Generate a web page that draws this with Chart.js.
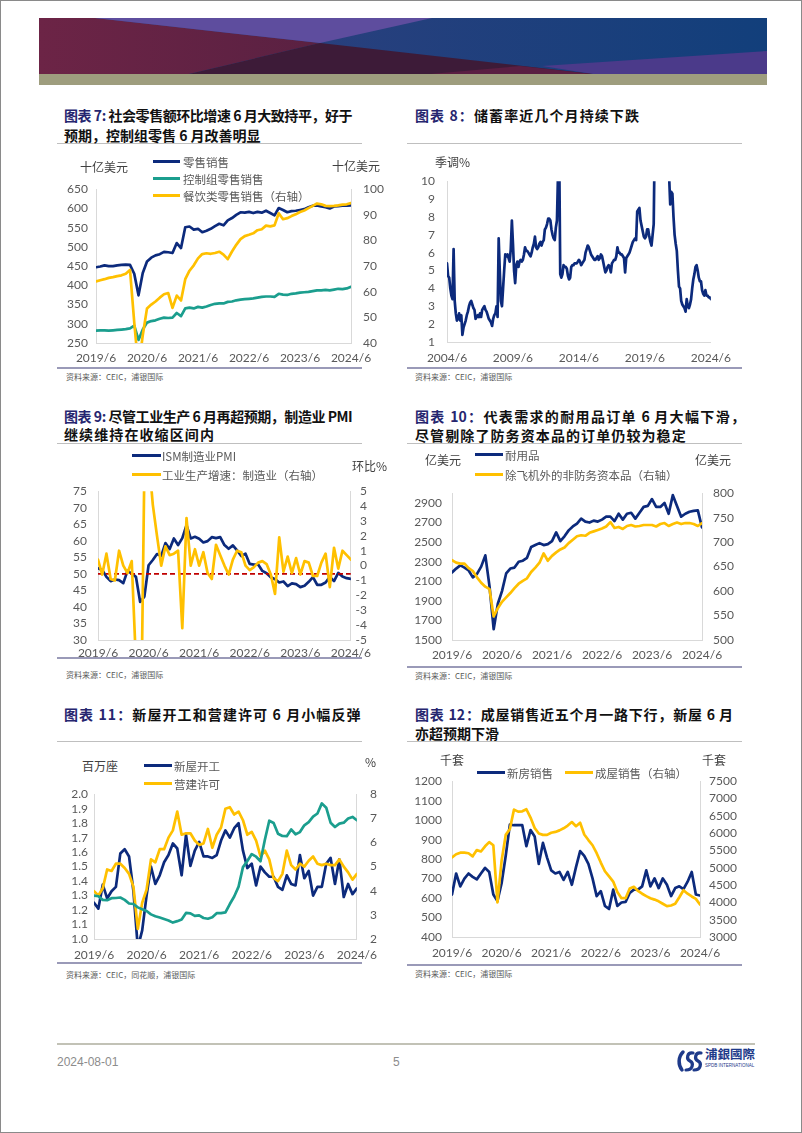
<!DOCTYPE html>
<html><head><meta charset="utf-8">
<script src="https://cdn.jsdelivr.net/npm/chart.js@4.4.1/dist/chart.umd.min.js"></script>
<style>
html,body{margin:0;padding:0;background:#fff;}
#page{position:relative;width:802px;height:1133px;overflow:hidden;background:#fff;}
#frame{position:absolute;left:0;top:0;width:802px;height:1133px;box-sizing:border-box;border:1px solid #8a8a8a;z-index:10;pointer-events:none;}
canvas{position:absolute;z-index:1;}
.t{position:absolute;white-space:nowrap;font-family:'Noto Sans CJK SC','Noto Sans',sans-serif;z-index:3;}
.title{font-size:14px;font-weight:700;color:#111;line-height:20px;}
.title .p{color:#26266F;}
.jl{text-align:justify;text-align-last:justify;white-space:normal;overflow:visible;}
.ls{letter-spacing:1.1px;}
.leg{font-size:11.5px;color:#595959;line-height:14px;}
.ax{font-size:12px;color:#404040;line-height:14px;}
.src{font-size:8px;color:#595959;line-height:10px;}
.sw{position:absolute;height:3px;z-index:3;}
.hr{position:absolute;height:1px;background:#BFBFBF;}
.hb{position:absolute;height:2px;background:#9A9AB8;}
.foot{position:absolute;font-family:'Liberation Sans',Arial,sans-serif;font-size:12px;color:#8c8c8c;line-height:14px;}
</style></head>
<body><div id="page">

<svg style="position:absolute;left:39px;top:18px" width="728" height="67">
  <defs>
    <linearGradient id="gNavy" x1="0" x2="1" y1="0" y2="0"><stop offset="0" stop-color="#36407F"/><stop offset="1" stop-color="#123F7B"/></linearGradient>
    <linearGradient id="gMar" x1="0" x2="1" y1="0" y2="0"><stop offset="0" stop-color="#6C2446"/><stop offset="1" stop-color="#5A2142"/></linearGradient>
  </defs>
  <rect x="0" y="0" width="728" height="56" fill="url(#gNavy)"/>
  <polygon points="0,0 56,0 281,25 150,56 0,56" fill="url(#gMar)"/>
  <polygon points="56,0 393,0 281,25" fill="#5E4D9E"/>
  <polygon points="281,25 554,56 150,56" fill="#3D1B38"/>
  <polygon points="503,48 728,33 728,56 554,56" fill="#4B3A8A"/>
  <polygon points="391,56 481,48 554,56" fill="#5A1E42"/>
  <rect x="0" y="56" width="728" height="11" fill="#9E9D7E"/>
</svg>

<canvas id="c7"></canvas>
<canvas id="c8"></canvas>
<canvas id="c9"></canvas>
<canvas id="c10"></canvas>
<canvas id="c11"></canvas>
<canvas id="c12"></canvas>

<!-- titles -->
<div class="t title" style="left:64px;top:105px;letter-spacing:-0.45px"><span class="p">图表 7:</span> 社会零售额环比增速 6 月大致持平，好于</div>
<div class="t title" style="left:64px;top:125px">预期，控制组零售 6 月改善明显</div>
<div class="t title ls" style="left:415px;top:105px"><span class="p">图表 8：</span>储蓄率近几个月持续下跌</div>
<div class="t title" style="left:64px;top:406px;letter-spacing:-0.45px"><span class="p">图表 9:</span> 尽管工业生产 6 月再超预期，制造业 PMI</div>
<div class="t title ls" style="left:64px;top:424px">继续维持在收缩区间内</div>
<div class="t title jl" style="left:415px;top:406px;width:330px"><span class="p">图表 10：</span>代表需求的耐用品订单 6 月大幅下滑，</div>
<div class="t title ls" style="left:415px;top:425px">尽管剔除了防务资本品的订单仍较为稳定</div>
<div class="t title ls" style="left:64px;top:704px"><span class="p">图表 11：</span>新屋开工和营建许可 6 月小幅反弹</div>
<div class="t title jl" style="left:415px;top:704px;width:318px"><span class="p">图表 12：</span>成屋销售近五个月一路下行，新屋 6 月</div>
<div class="t title" style="left:415px;top:723px">亦超预期下滑</div>

<!-- separators -->
<div class="hr" style="left:57px;top:143px;width:305px"></div>
<div class="hr" style="left:407px;top:143px;width:335px"></div>
<div class="hr" style="left:57px;top:443px;width:305px"></div>
<div class="hr" style="left:407px;top:443px;width:335px"></div>
<div class="hr" style="left:57px;top:741px;width:305px"></div>
<div class="hr" style="left:407px;top:741px;width:335px"></div>
<div class="hb" style="left:57px;top:367px;width:305px"></div>
<div class="hb" style="left:407px;top:367px;width:335px"></div>
<div class="hb" style="left:57px;top:657px;width:305px"></div>
<div class="hb" style="left:407px;top:666px;width:335px"></div>
<div class="hb" style="left:57px;top:962px;width:305px"></div>
<div class="hb" style="left:407px;top:964px;width:335px"></div>

<!-- sources -->
<div class="t src" style="left:66px;top:372px">资料来源：CEIC，浦银国际</div>
<div class="t src" style="left:415px;top:372px">资料来源：CEIC，浦银国际</div>
<div class="t src" style="left:66px;top:670px">资料来源：CEIC，浦银国际</div>
<div class="t src" style="left:415px;top:671px">资料来源：CEIC，浦银国际</div>
<div class="t src" style="left:66px;top:970px">资料来源：CEIC，同花顺，浦银国际</div>
<div class="t src" style="left:415px;top:969px">资料来源：CEIC，浦银国际</div>

<!-- chart 7 legend & axis titles -->
<div class="t ax" style="left:80px;top:160px">十亿美元</div>
<div class="t ax" style="left:332px;top:159px">十亿美元</div>
<div class="sw" style="left:153px;top:160px;width:27px;background:#0C2A7C"></div>
<div class="t leg" style="left:183px;top:155px">零售销售</div>
<div class="sw" style="left:153px;top:177px;width:27px;background:#1B9E8E"></div>
<div class="t leg" style="left:183px;top:172px">控制组零售销售</div>
<div class="sw" style="left:153px;top:194px;width:27px;background:#FFC000"></div>
<div class="t leg" style="left:183px;top:189px">餐饮类零售销售（右轴）</div>

<!-- chart 8 -->
<div class="t ax" style="left:435px;top:155px">季调%</div>

<!-- chart 9 -->
<div class="sw" style="left:132px;top:454px;width:29px;background:#0C2A7C"></div>
<div class="t leg" style="left:162px;top:449px">ISM制造业PMI</div>
<div class="sw" style="left:132px;top:473px;width:29px;background:#FFC000"></div>
<div class="t leg" style="left:162px;top:468px">工业生产增速：制造业（右轴）</div>
<div class="t ax" style="left:352px;top:459px">环比%</div>

<!-- chart 10 -->
<div class="t ax" style="left:425px;top:453px">亿美元</div>
<div class="t ax" style="left:695px;top:453px">亿美元</div>
<div class="sw" style="left:475px;top:453px;width:28px;background:#0C2A7C"></div>
<div class="t leg" style="left:505px;top:448px">耐用品</div>
<div class="sw" style="left:475px;top:473px;width:28px;background:#FFC000"></div>
<div class="t leg" style="left:505px;top:468px">除飞机外的非防务资本品（右轴）</div>

<!-- chart 11 -->
<div class="t ax" style="left:82px;top:759px">百万座</div>
<div class="t ax" style="left:365px;top:755px">%</div>
<div class="sw" style="left:144px;top:764px;width:28px;background:#0C2A7C"></div>
<div class="t leg" style="left:174px;top:759px">新屋开工</div>
<div class="sw" style="left:144px;top:782px;width:28px;background:#FFC000"></div>
<div class="t leg" style="left:174px;top:777px">营建许可</div>

<!-- chart 12 -->
<div class="t ax" style="left:440px;top:753px">千套</div>
<div class="t ax" style="left:702px;top:753px">千套</div>
<div class="sw" style="left:477px;top:771px;width:28px;background:#0C2A7C"></div>
<div class="t leg" style="left:507px;top:766px">新房销售</div>
<div class="sw" style="left:565px;top:771px;width:28px;background:#FFC000"></div>
<div class="t leg" style="left:595px;top:766px">成屋销售（右轴）</div>

<!-- footer -->
<div style="position:absolute;left:57px;top:1043px;width:698px;height:2px;background:#C2C2B6"></div>
<div class="foot" style="left:57px;top:1055px">2024-08-01</div>
<div class="foot" style="left:393px;top:1055px">5</div>
<svg style="position:absolute;left:676px;top:1049px" width="30" height="24">
  <path d="M7 3 C2 8 2 16 6 21" stroke="#1E3A8A" stroke-width="3.5" fill="none" stroke-linecap="round"/>
  <path d="M17 4 C11 3 10 10 14 12 C18 14 17 21 10 21" stroke="#1E3A8A" stroke-width="3.2" fill="none" stroke-linecap="round"/>
  <path d="M25 4 C19 3 18 10 22 12 C26 14 25 21 18 21" stroke="#1E3A8A" stroke-width="3.2" fill="none" stroke-linecap="round"/>
</svg>
<div class="t" style="left:705px;top:1047px;font-size:12.5px;font-weight:700;color:#1E3A8A;line-height:14px;font-family:'Noto Sans CJK TC','Noto Sans CJK SC',sans-serif">浦銀國際</div>
<div class="t" style="left:705px;top:1063px;font-size:4.5px;color:#1E3A8A;line-height:5px;font-family:'Liberation Sans',sans-serif">SPDB INTERNATIONAL</div>

<div id="frame"></div>
</div>

<script>
// ---------- category helpers ----------
function monthLabels(y, m, n) {
  const out = [];
  for (let i = 0; i < n; i++) { const t = (m - 1) + i; out.push((y + Math.floor(t / 12)) + '/' + ((t % 12) + 1)); }
  return out;
}
const months19 = monthLabels(2019, 6, 61);   // 2019/6 .. 2024/6
const months04 = monthLabels(2004, 6, 241);  // 2004/6 .. 2024/6
const xTicks5y = ['2019/6','2020/6','2021/6','2022/6','2023/6','2024/6'];
const xTicks8 = ['2004/6','2009/6','2014/6','2019/6','2024/6'];

// ---------- chart 7: retail sales ----------
const retailSales = [447,449,452,450,450,452,453,454,453,430,
  374,432,462,472,478,481,487,486,484,510,
  497,551,553,545,547,538,542,547,554,560,
  556,569,575,583,590,589,591,588,591,589,
  594,588,582,601,596,590,593,594,596,598,
  603,607,608,605,603,600,605,606,607,607,
  608];
const controlGroupSales = [282,283,283,282,283,284,285,286,288,295,
  258,285,303,307,309,313,316,315,316,328,
  320,340,342,340,344,342,345,349,352,353,
  353,357,358,361,363,364,365,366,368,370,
  371,371,370,378,376,375,378,379,381,382,
  383,385,387,387,388,387,389,391,390,392,
  396];
const foodServicesSales = [64.0,64.5,64.9,65.4,65.7,66.1,66.4,67.0,68.5,48.0,
  30.0,43.0,53.5,55.0,56.2,57.7,59.0,59.5,53.7,58.5,
  56.6,64.9,68.2,70.3,73.0,74.7,75.0,74.8,75.1,75.6,
  74.5,72.7,75.7,78.3,80.5,81.7,82.2,82.8,84.0,84.4,
  85.8,85.5,85.9,90.6,88.3,88.7,89.5,90.2,91.1,91.7,
  92.6,93.5,94.4,94.1,93.5,93.4,93.5,93.7,94.0,94.1,
  94.6];
const ticks7L = [250,300,350,400,450,500,550,600,650];
const ticks7R = [40,50,60,70,80,90,100];

// ---------- chart 8: saving rate ----------
const savingRate = [
  5.4,4.7,4.6,4.0,3.6,3.4,6.2,3.3,2.6,2.2,2.3,2.6,
  2.2,2.5,1.4,1.8,2.0,2.2,2.5,2.7,3.0,3.2,3.3,3.1,
  2.9,2.8,2.3,2.4,2.5,2.4,2.6,2.4,2.8,2.9,3.0,2.8,
  2.7,2.5,2.3,2.2,2.1,1.9,2.3,2.5,2.6,3.0,2.4,6.8,
  5.0,3.3,3.0,4.0,5.0,5.9,5.8,5.9,5.7,5.5,6.2,7.8,
  6.5,5.0,4.3,5.3,5.5,5.2,5.5,5.6,5.5,5.6,5.9,6.3,
  6.1,6.1,6.0,5.9,5.8,6.0,6.3,6.5,6.9,6.3,6.2,6.3,
  6.5,6.6,6.4,6.6,6.7,7.3,7.4,7.6,7.9,7.9,7.8,7.3,
  7.0,6.8,6.7,7.4,7.8,10.5,12.0,4.8,4.6,4.8,5.3,5.2,
  5.2,5.1,4.7,4.5,4.6,5.2,5.3,5.3,5.4,5.4,5.4,5.5,
  5.6,5.5,5.3,5.4,5.5,5.6,6.0,6.2,6.4,6.3,6.1,5.9,
  5.8,5.7,5.6,5.6,5.7,5.8,5.6,5.7,5.9,5.8,5.5,5.2,
  4.9,5.0,5.2,5.3,5.2,4.9,5.4,5.5,5.6,5.6,5.8,6.3,
  6.0,6.0,5.9,5.9,5.8,5.7,4.9,5.7,5.8,5.9,6.0,6.2,
  6.4,6.6,6.7,6.8,6.7,8.3,8.4,8.5,7.8,7.5,7.2,6.9,
  6.8,6.9,7.3,7.3,6.9,6.6,6.4,7.0,7.6,12.8,33.0,24.5,
  19.0,18.0,14.5,14.1,13.5,12.5,13.0,19.5,13.5,26.0,10.3,8.7,
  9.4,9.3,8.0,7.0,6.5,6.1,5.0,4.1,4.0,3.3,3.1,3.0,
  2.9,2.7,3.4,3.0,2.9,3.1,3.4,4.0,4.5,4.8,5.2,5.3,
  5.0,4.6,4.4,4.4,3.9,3.7,3.6,3.9,3.6,3.6,3.5,3.5,
  3.4];
const ticks8 = [1,2,3,4,5,6,7,8,9,10];

// ---------- chart 9: ISM PMI & IP manufacturing ----------
const ismPMI = [51.7,51.2,49.1,47.8,48.3,48.1,47.2,
  50.9,50.1,49.1,41.5,43.1,52.6,54.2,56.0,55.4,59.3,57.5,60.7,
  58.7,60.8,64.7,60.7,61.2,60.6,59.5,59.9,61.1,60.8,61.1,58.7,
  57.6,58.6,57.1,55.4,56.1,53.0,52.8,52.8,50.9,50.2,49.0,48.4,
  47.4,47.7,46.3,47.1,46.9,46.0,46.4,47.6,49.0,46.7,46.7,47.4,
  49.1,47.8,50.3,49.2,48.7,48.5];
const ipManufacturingMoM = [0.4,-0.6,0.8,-0.9,-1.0,1.0,0.0,-0.5,0.3,-6.5,
  -15.6,6.5,7.4,4.1,2.0,0.0,1.3,0.7,0.8,1.0,
  -4.2,3.2,0.0,1.1,0.0,0.9,-0.5,-0.9,1.4,0.7,
  0.0,-0.6,0.4,1.0,0.9,0.0,-0.3,-0.1,0.2,0.3,
  0.1,-0.6,-1.9,1.9,-0.4,0.6,-0.5,0.5,-0.6,0.3,
  0.2,-0.7,-0.7,0.2,0.8,-1.45,1.2,-0.2,1.0,0.7,
  0.4];
const pmiThreshold = 50;
const ticks9L = [30,35,40,45,50,55,60,65,70,75];
const ticks9R = [-5,-4,-3,-2,-1,0,1,2,3,4,5];

// ---------- chart 10: durable goods ----------
const durableGoodsOrders = [2190,2230,2262,2240,2210,2140,2175,2250,2365,2050,
  1610,1870,2000,2180,2230,2240,2300,2310,2340,2450,
  2470,2490,2470,2480,2510,2600,2510,2560,2620,2660,
  2690,2740,2710,2700,2720,2710,2730,2760,2760,2715,
  2790,2730,2790,2800,2740,2800,2860,2870,2940,2860,
  2860,2900,2790,2980,2870,2760,2790,2810,2820,2825,
  2650];
const coreCapexOrders = [663,658,656,656,647,641,628,617,609,604,
  548,565,578,587,596,606,615,621,626,639,
  648,658,677,662,672,679,685,689,698,705,
  712,714,713,719,722,725,728,732,741,729,
  731,727,733,735,732,733,735,735,735,732,
  737,739,733,737,740,737,739,739,737,733,
  739];
const ticks10L = [1500,1700,1900,2100,2300,2500,2700,2900];
const ticks10R = [500,550,600,650,700,750,800];

// ---------- chart 11: housing starts, permits, mortgage rate ----------
const housingStarts = [1.25,1.21,1.375,1.28,1.33,1.36,1.59,1.62,1.57,1.33,
  0.94,1.06,1.30,1.50,1.38,1.44,1.53,1.58,1.66,1.625,
  1.44,1.72,1.505,1.61,1.67,1.57,1.57,1.56,1.58,1.68,
  1.75,1.70,1.765,1.80,1.61,1.49,1.52,1.37,1.50,1.46,
  1.43,1.43,1.36,1.34,1.44,1.38,1.37,1.58,1.42,1.47,
  1.30,1.36,1.36,1.52,1.56,1.38,1.55,1.29,1.38,1.31,
  1.35];
const buildingPermits = [1.33,1.30,1.35,1.48,1.47,1.52,1.52,1.49,1.45,1.36,
  1.07,1.25,1.34,1.55,1.53,1.62,1.62,1.70,1.75,1.88,
  1.72,1.73,1.73,1.68,1.65,1.66,1.76,1.63,1.72,1.77,
  1.90,1.91,1.86,1.88,1.82,1.72,1.74,1.68,1.57,1.61,
  1.55,1.42,1.40,1.45,1.61,1.51,1.48,1.52,1.50,1.54,
  1.57,1.52,1.51,1.52,1.51,1.51,1.55,1.50,1.46,1.41,
  1.45];
const mortgageRate30y = [3.80,3.77,3.62,3.61,3.69,3.70,3.72,3.62,3.47,3.45,
  3.31,3.23,3.16,3.02,2.94,2.89,2.83,2.77,2.68,2.74,
  2.81,3.08,3.06,2.96,2.98,2.87,2.84,2.90,3.07,3.07,
  3.10,3.45,3.76,4.17,4.98,5.23,5.52,5.41,5.22,6.11,
  6.90,6.81,6.36,6.27,6.26,6.54,6.34,6.43,6.71,6.84,
  7.07,7.20,7.62,7.44,6.82,6.64,6.78,6.82,6.99,7.06,
  6.92];
const ticks11L = [1.0,1.1,1.2,1.3,1.4,1.5,1.6,1.7,1.8,1.9,2.0];
const ticks11R = [2,3,4,5,6,7,8];

// ---------- chart 12: home sales ----------
const newHomeSales = [618,726,660,700,726,709,696,726,755,734,
  618,585,676,817,977,974,974,974,866,949,
  916,775,883,808,742,726,734,693,734,668,
  759,841,817,775,701,610,635,560,544,643,
  560,577,580,626,643,643,660,742,660,701,
  651,701,668,610,651,660,646,684,734,618,
  613];
const existingHomeSales = [5300,5390,5436,5436,5420,5330,5510,5470,5620,5740,
  5650,4000,5200,5950,6120,6680,6620,6630,6690,6450,
  6150,5990,5950,5950,6010,6035,6080,6140,6220,6320,
  6200,6300,5960,5800,5650,5420,5150,4900,4750,4600,
  4300,4120,4120,4400,4450,4330,4250,4180,4120,4080,
  4030,3960,3890,3910,3960,4150,4350,4250,4170,4100,
  3940];
const ticks12L = [400,500,600,700,800,900,1000,1100,1200];
const ticks12R = [3000,3500,4000,4500,5000,5500,6000,6500,7000,7500];

// ---------- styling ----------
const NAVY = '#0C2A7C', GOLD = '#FFC000', TEAL = '#1B9E8E', RED = '#C00000';
Chart.defaults.font.family = "Lato, 'Noto Sans', sans-serif";
Chart.defaults.font.size = 12;
Chart.defaults.color = '#595959';

function ds(label, data, color, axis, order, extra) {
  return Object.assign({label, data, borderColor: color, backgroundColor: color, borderWidth: 2.7,
    yAxisID: axis, order, clip: 0, pointRadius: 0, pointHoverRadius: 0, tension: 0, fill: false,
    borderJoinStyle: 'round', borderCapStyle: 'round'}, extra || {});
}
function yAxis(a, pos) {
  return {
    type: 'linear', position: pos, min: a.min, max: a.max,
    grid: {display: false, drawTicks: false},
    border: {display: true, color: '#D9D9D9', width: 1},
    afterBuildTicks: s => { s.ticks = a.ticks.map(v => ({value: v})); },
    afterFit: s => { s.width = a.width; },
    ticks: {autoSkip: false, padding: a.pad, crossAlign: a.align || 'near', callback: a.fmt || (v => String(v))}
  };
}
function build(c) {
  const cv = document.getElementById(c.id);
  cv.width = c.w; cv.height = c.h;
  cv.style.left = c.x + 'px'; cv.style.top = c.y + 'px';
  cv.style.width = c.w + 'px'; cv.style.height = c.h + 'px';
  const scales = {
    x: {
      type: 'category', offset: false,
      grid: {display: false, drawTicks: false},
      border: {display: true, color: '#D9D9D9', width: 1},
      afterFit: s => { s.height = c.xH; },
      ticks: {autoSkip: false, maxRotation: 0, minRotation: 0, padding: c.xPad,
        callback: function (v) { const l = this.getLabelForValue(v); return c.shown.includes(l) ? l : ''; }}
    },
    yL: yAxis(c.left, 'left')
  };
  if (c.right) scales.yR = yAxis(c.right, 'right');
  new Chart(cv, {
    type: 'line',
    data: {labels: c.labels, datasets: c.datasets},
    options: {
      responsive: false, animation: false, devicePixelRatio: 1,
      layout: {padding: {top: c.padTop, right: c.padRight || 0, left: 0, bottom: 0}},
      plugins: {legend: {display: false}, tooltip: {enabled: false}},
      events: [],
      scales
    }
  });
}

build({id: 'c7', x: 55, y: 170, w: 331, h: 198, padTop: 12, xH: 25, xPad: 8,
  labels: months19, shown: xTicks5y,
  left: {min: 250, max: 650, ticks: ticks7L, width: 41, pad: 8},
  right: {min: 40, max: 100, ticks: ticks7R, width: 35, pad: 12},
  datasets: [
    ds('零售销售', retailSales, NAVY, 'yL', 3),
    ds('控制组零售销售', controlGroupSales, TEAL, 'yL', 2),
    ds('餐饮类零售销售（右轴）', foodServicesSales, GOLD, 'yR', 1)
  ]});

build({id: 'c8', x: 405, y: 162, w: 335, h: 206, padTop: 12, padRight: 24, xH: 26, xPad: 9,
  labels: months04, shown: xTicks8,
  left: {min: 1, max: 10, ticks: ticks8, width: 42, pad: 12},
  right: null,
  datasets: [ds('个人储蓄率', savingRate, NAVY, 'yL', 1)]});

build({id: 'c9', x: 55, y: 473, w: 322, h: 189, padTop: 12, padRight: 4, xH: 22, xPad: 6,
  labels: months19, shown: xTicks5y,
  left: {min: 30, max: 75, ticks: ticks9L, width: 43, pad: 11},
  right: {min: -5, max: 5, ticks: ticks9R, width: 16, pad: 2, align: 'far'},
  datasets: [
    ds('ISM制造业PMI', ismPMI, NAVY, 'yL', 3),
    ds('荣枯线', [{x: months19[0], y: pmiThreshold}, {x: months19[months19.length - 1], y: pmiThreshold}], RED, 'yL', 2,
       {borderWidth: 1.6, borderDash: [5, 3], borderCapStyle: 'butt'}),
    ds('工业生产增速：制造业（右轴）', ipManufacturingMoM, GOLD, 'yR', 1)
  ]});

build({id: 'c10', x: 405, y: 475, w: 333, h: 189, padTop: 12, xH: 24, xPad: 8,
  labels: months19, shown: xTicks5y,
  left: {min: 1500, max: 3000, ticks: ticks10L, width: 47, pad: 10},
  right: {min: 500, max: 800, ticks: ticks10R, width: 36, pad: 11},
  datasets: [
    ds('耐用品', durableGoodsOrders, NAVY, 'yL', 2),
    ds('除飞机外的非防务资本品（右轴）', coreCapexOrders, GOLD, 'yR', 1)
  ]});

build({id: 'c11', x: 55, y: 774, w: 331, h: 189, padTop: 12, xH: 24, xPad: 9,
  labels: months19, shown: xTicks5y,
  left: {min: 1.0, max: 2.0, ticks: ticks11L, width: 39, pad: 6, fmt: v => v.toFixed(1)},
  right: {min: 2, max: 8, ticks: ticks11R, width: 25, pad: 13},
  datasets: [
    ds('新屋开工', housingStarts, NAVY, 'yL', 3),
    ds('营建许可', buildingPermits, GOLD, 'yL', 2),
    ds('30年期按揭利率（右轴）', mortgageRate30y, TEAL, 'yR', 1)
  ]});

build({id: 'c12', x: 405, y: 764, w: 335, h: 197, padTop: 12, xH: 24, xPad: 9,
  labels: months19, shown: xTicks5y,
  left: {min: 400, max: 1200, ticks: ticks12L, width: 47, pad: 10},
  right: {min: 3000, max: 7500, ticks: ticks12R, width: 40, pad: 9},
  datasets: [
    ds('新房销售', newHomeSales, NAVY, 'yL', 2),
    ds('成屋销售（右轴）', existingHomeSales, GOLD, 'yR', 1)
  ]});
</script>
</body></html>
